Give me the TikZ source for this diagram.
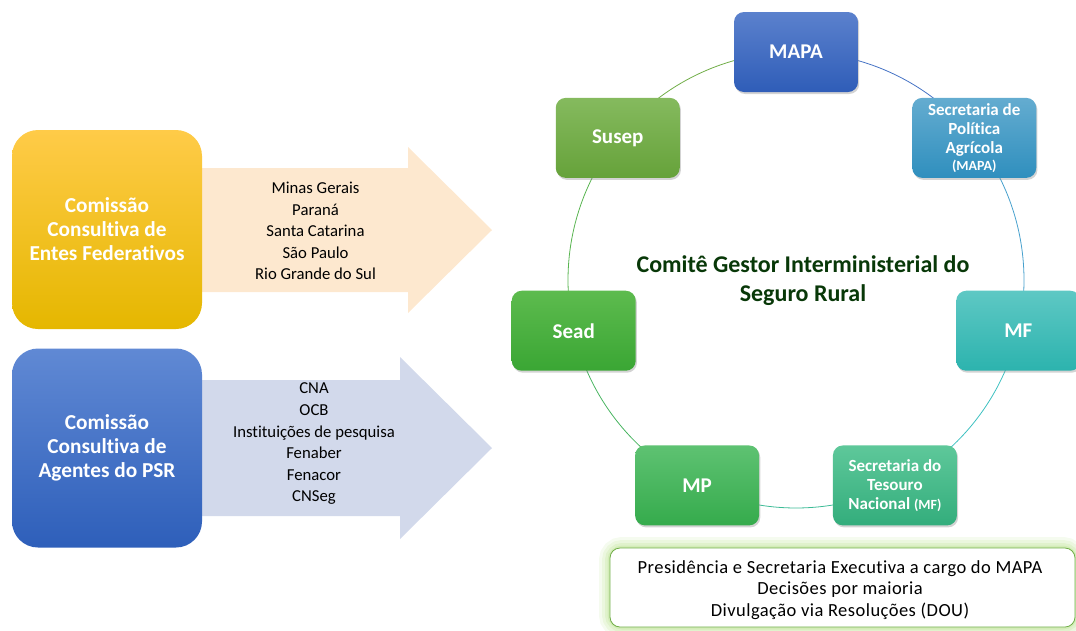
\documentclass[tikz,border=0pt]{standalone}
\usepackage{fontspec}
\setmainfont{Carlito}[Ligatures=NoCommon]
\usetikzlibrary{shadows}
\definecolor{titlegreen}{HTML}{083808}
\definecolor{peach}{HTML}{FDE8CF}
\definecolor{lavender}{HTML}{D2D9EB}
\tikzset{
  cyc/.style={rounded corners=10pt, minimum width=124pt, minimum height=80pt,
    inner sep=2pt, align=center, text=white,
    font=\bfseries\fontsize{21}{25}\selectfont,
    drop shadow={opacity=0.35, shadow xshift=1.2pt, shadow yshift=-2pt}},
  cycsmall/.style={cyc, font=\bfseries\fontsize{17}{19.3}\selectfont},
  bigbox/.style={rounded corners=26pt, minimum width=190pt, minimum height=199pt,
    inner sep=2pt, align=center, text=white,
    font=\bfseries\fontsize{21.3}{24}\selectfont},
  arrowtext/.style={align=center, font=\fontsize{16.7}{21.6}\selectfont, text=black},
  ring/.style={line width=0.8pt},
}
\begin{document}
\begin{tikzpicture}[x=1pt,y=-1pt]
\useasboundingbox (0,0) rectangle (1076,630);
\clip (0,0) rectangle (1076,630);

% ---------- left side ----------
\fill[peach] (202,168) -- (408,168) -- (408,147) -- (492,230) -- (408,313) -- (408,292) -- (202,292) -- cycle;
\fill[lavender] (202,380) -- (400,380) -- (400,357) -- (492,448) -- (400,539) -- (400,516) -- (202,516) -- cycle;

\node[bigbox, top color={rgb,255:red,255;green,203;blue,72}, middle color={rgb,255:red,255;green,194;blue,10}, bottom color={rgb,255:red,229;green,183;blue,0}] (entes) at (107,229.5) {Comissão\\Consultiva de\\Entes Federativos};
\node[bigbox, top color={rgb,255:red,96;green,137;blue,212}, bottom color={rgb,255:red,46;green,95;blue,186}] (agentes) at (107,448) {Comissão\\Consultiva de\\Agentes do PSR};

\node[arrowtext] (estados) at (315.5,231) {Minas Gerais\\Paraná\\Santa Catarina\\São Paulo\\Rio Grande do Sul};
\node[arrowtext] (orgs) at (314,444) {CNA\\OCB\\Instituições de pesquisa\\Fenaber\\Fenacor\\CNSeg};

% ---------- ring ----------
\coordinate (c) at (796,280);
\draw[ring, color={rgb,255:red,68;green,114;blue,196}] ([shift={(90:228pt)}]c) arc[start angle=90, end angle=38.571, radius=228pt];
\draw[ring, color={rgb,255:red,70;green,160;blue,205}] ([shift={(38.571:228pt)}]c) arc[start angle=38.571, end angle=-12.857, radius=228pt];
\draw[ring, color={rgb,255:red,60;green,192;blue,192}] ([shift={(-12.857:228pt)}]c) arc[start angle=-12.857, end angle=-64.286, radius=228pt];
\draw[ring, color={rgb,255:red,60;green,187;blue,150}] ([shift={(-64.286:228pt)}]c) arc[start angle=-64.286, end angle=-115.714, radius=228pt];
\draw[ring, color={rgb,255:red,72;green,180;blue,96}] ([shift={(-115.714:228pt)}]c) arc[start angle=-115.714, end angle=-167.143, radius=228pt];
\draw[ring, color={rgb,255:red,88;green,180;blue,80}] ([shift={(-167.143:228pt)}]c) arc[start angle=-167.143, end angle=-218.571, radius=228pt];
\draw[ring, color={rgb,255:red,112;green,173;blue,71}] ([shift={(141.429:228pt)}]c) arc[start angle=141.429, end angle=90, radius=228pt];

\node[cyc, top color={rgb,255:red,91;green,129;blue,205}, bottom color={rgb,255:red,47;green,93;blue,184}] (mapa) at ([shift={(90:228pt)}]c) {MAPA};
\node[cycsmall, top color={rgb,255:red,100;green,172;blue,208}, bottom color={rgb,255:red,47;green,143;blue,190}] (spa) at ([shift={(38.571:228pt)}]c) {Secretaria de\\Política\\Agrícola\\[-2.5pt]{\fontsize{14}{15}\selectfont (MAPA)}};
\node[cyc, top color={rgb,255:red,94;green,200;blue,196}, bottom color={rgb,255:red,44;green,179;blue,174}] (mf) at ([shift={(-12.857:228pt)}]c) {MF};
\node[cycsmall, top color={rgb,255:red,94;green,200;blue,154}, bottom color={rgb,255:red,51;green,173;blue,124}] (stn) at ([shift={(-64.286:228pt)}]c) {Secretaria do\\Tesouro\\Nacional {\fontsize{14}{15}\selectfont (MF)}};
\node[cyc, top color={rgb,255:red,94;green,194;blue,114}, bottom color={rgb,255:red,53;green,171;blue,76}] (mp) at ([shift={(-115.714:228pt)}]c) {MP};
\node[cyc, top color={rgb,255:red,93;green,187;blue,78}, bottom color={rgb,255:red,58;green,166;blue,52}] (sead) at ([shift={(-167.143:228pt)}]c) {Sead};
\node[cyc, top color={rgb,255:red,133;green,186;blue,94}, bottom color={rgb,255:red,102;green,162;blue,58}] (susep) at ([shift={(141.429:228pt)}]c) {Susep};

\node[align=center, text=titlegreen, font=\bfseries\fontsize{24}{29}\selectfont] (titulo) at (803,281) {Comitê Gestor Interministerial do\\Seguro Rural};

% ---------- bottom box ----------
\foreach \w/\o in {22/0.10,16/0.12,10/0.15,5/0.2}{
  \draw[line width=\w pt, color={rgb,255:red,160;green,215;blue,100}, opacity=\o, rounded corners=12pt] (610,548) rectangle (1075,627);
}
\node[draw={rgb,255:red,112;green,173;blue,71}, line width=0.8pt, fill=white, rounded corners=10pt,
  minimum width=465pt, minimum height=79pt] (info) at (842.5,587.5) {};
\node[align=center, font=\addfontfeatures{LetterSpace=2.5}\fontsize{18.5}{21.5}\selectfont] (infotext) at (840,590)
  {Presidência e Secretaria Executiva a cargo do MAPA\\Decisões por maioria\\Divulgação via Resoluções (DOU)};
\end{tikzpicture}
\end{document}
